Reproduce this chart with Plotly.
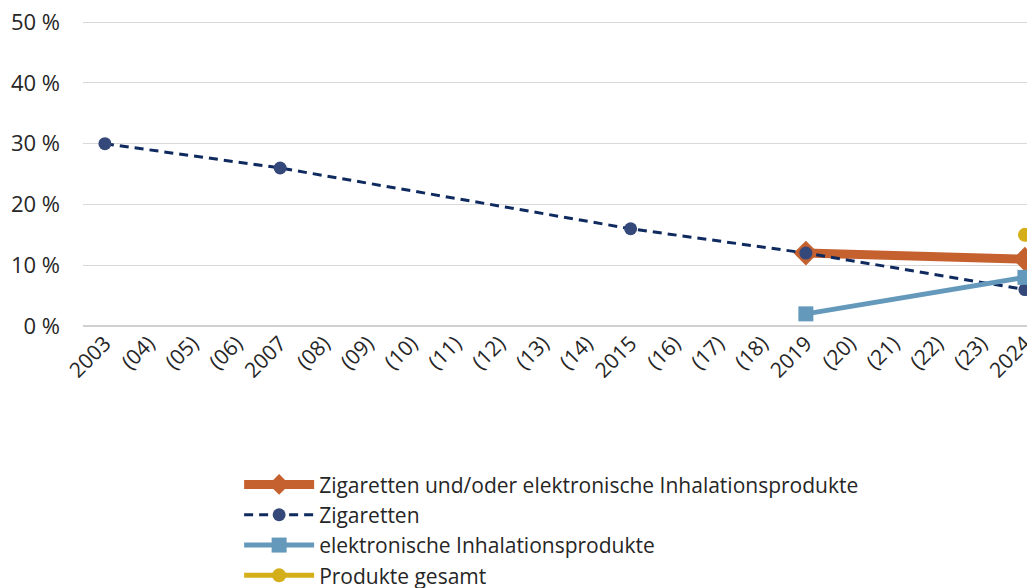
import plotly.graph_objects as go

categories = ["2003", "(04)", "(05)", "(06)", "2007", "(08)", "(09)", "(10)", "(11)", "(12)",
              "(13)", "(14)", "2015", "(16)", "(17)", "(18)", "2019", "(20)", "(21)", "(22)",
              "(23)", "2024"]

combined_years = ["2019", "2024"]
combined_values = [12, 11]

cig_years = ["2003", "2007", "2015", "2019", "2024"]
cig_values = [30, 26, 16, 12, 6]

ecig_years = ["2019", "2024"]
ecig_values = [2, 8]

total_years = ["2024"]
total_values = [15]

y_ticks = [0, 10, 20, 30, 40, 50]
y_ticktext = ["0 %", "10 %", "20 %", "30 %", "40 %", "50 %"]

FONT = "Open Sans"
TXT = "#262626"

fig = go.Figure()
fig.add_trace(go.Scatter(
    x=combined_years, y=combined_values, mode="lines+markers", cliponaxis=False,
    name="Zigaretten und/oder elektronische Inhalationsprodukte",
    line=dict(color="#C5612F", width=9),
    marker=dict(symbol="diamond", size=19, color="#C5612F")))
fig.add_trace(go.Scatter(
    x=cig_years, y=cig_values, mode="lines+markers", name="Zigaretten", cliponaxis=False,
    line=dict(color="#0F2A5E", width=3, dash="9px,6px"),
    marker=dict(symbol="circle", size=13, color="#34497A")))
fig.add_trace(go.Scatter(
    x=ecig_years, y=ecig_values, mode="lines+markers", name="elektronische Inhalationsprodukte",
    cliponaxis=False,
    line=dict(color="#6499BC", width=5),
    marker=dict(symbol="square", size=15, color="#6499BC")))
fig.add_trace(go.Scatter(
    x=total_years, y=total_values, mode="lines+markers", name="Produkte gesamt", cliponaxis=False,
    line=dict(color="#D4AF1A", width=5),
    marker=dict(symbol="circle", size=14, color="#D4AF1A")))

fig.update_layout(
    width=1035, height=588,
    margin=dict(l=75, r=8, t=12, b=270, autoexpand=False),
    paper_bgcolor="white", plot_bgcolor="white",
    font=dict(family=FONT, size=21, color=TXT),
    showlegend=True,
    legend=dict(orientation="v", x=0.164, xanchor="left", y=-0.452, yanchor="top",
                font=dict(family=FONT, size=21, color=TXT),
                tracegroupgap=0, itemwidth=70, bgcolor="rgba(0,0,0,0)"),
    xaxis=dict(type="category", categoryorder="array", categoryarray=categories,
               tickmode="array", tickvals=categories, ticktext=categories,
               range=[-0.5, 21.23], tickangle=-45, showgrid=False, zeroline=False,
               showline=False, ticks="", automargin=False, ticklabeloverflow="allow",
               tickfont=dict(size=21, color=TXT)),
    yaxis=dict(range=[0, 50.35], tickvals=y_ticks, ticktext=y_ticktext,
               showgrid=True, gridcolor="#D9D9D9", gridwidth=1, zeroline=True,
               zerolinecolor="#D0D0D0", zerolinewidth=2, showline=False, ticks="",
               automargin=False, ticklabeloverflow="allow", ticklabelstandoff=22,
               tickfont=dict(size=22, color=TXT)),
)

fig.write_html("out.html")
